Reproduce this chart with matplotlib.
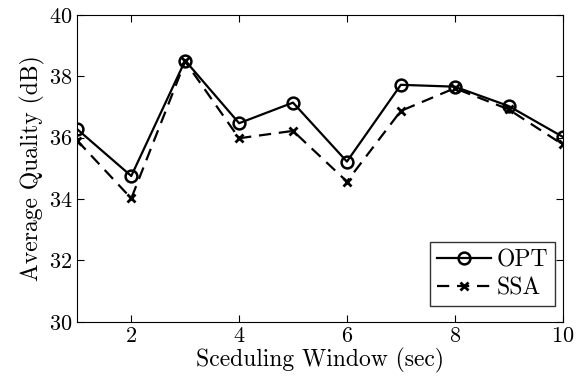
import matplotlib
matplotlib.use("Agg")
import matplotlib.pyplot as plt

windows = [1, 2, 3, 4, 5, 6, 7, 8, 9, 10]
opt = [36.27, 34.75, 38.51, 36.47, 37.14, 35.22, 37.72, 37.66, 37.03, 36.03]
ssa = [35.90, 34.02, 38.48, 35.98, 36.22, 34.57, 36.87, 37.61, 36.92, 35.78]

plt.rcParams['font.family'] = 'cmr10'
plt.rcParams['axes.formatter.use_mathtext'] = True
plt.rcParams['mathtext.fontset'] = 'cm'

fig = plt.figure(figsize=(5.86, 3.8), dpi=100)
ax = fig.add_axes([0.132, 0.153, 0.828, 0.808])

ax.plot(windows, opt, '-', color='black', lw=1.6, marker='o', markersize=8.5,
        markerfacecolor='none', markeredgewidth=1.8, label='OPT')
ax.plot(windows, ssa, '--', color='black', lw=1.6, marker='x', markersize=6,
        markeredgewidth=2, label='SSA', dashes=(5.5, 3.5))

ax.set_xlim(1, 10)
ax.set_ylim(30, 40)
ax.set_xticks([2, 4, 6, 8, 10])
ax.set_yticks([30, 32, 34, 36, 38, 40])
ax.tick_params(direction='in', top=True, right=True, labelsize=16, length=5)
ax.tick_params(axis='x', pad=3)
ax.set_xlabel('Sceduling Window (sec)', fontsize=17, labelpad=2)
ax.set_ylabel('Average Quality (dB)', fontsize=17, labelpad=3)

leg = ax.legend(loc='lower right', bbox_to_anchor=(0.984, 0.051), borderaxespad=0,
                fontsize=17, fancybox=False, handlelength=2.3,
                borderpad=0.3, labelspacing=0.25, handletextpad=0.2)
leg.get_frame().set_edgecolor('black')
leg.get_frame().set_linewidth(1.0)

fig.savefig('out.png', dpi=100)
